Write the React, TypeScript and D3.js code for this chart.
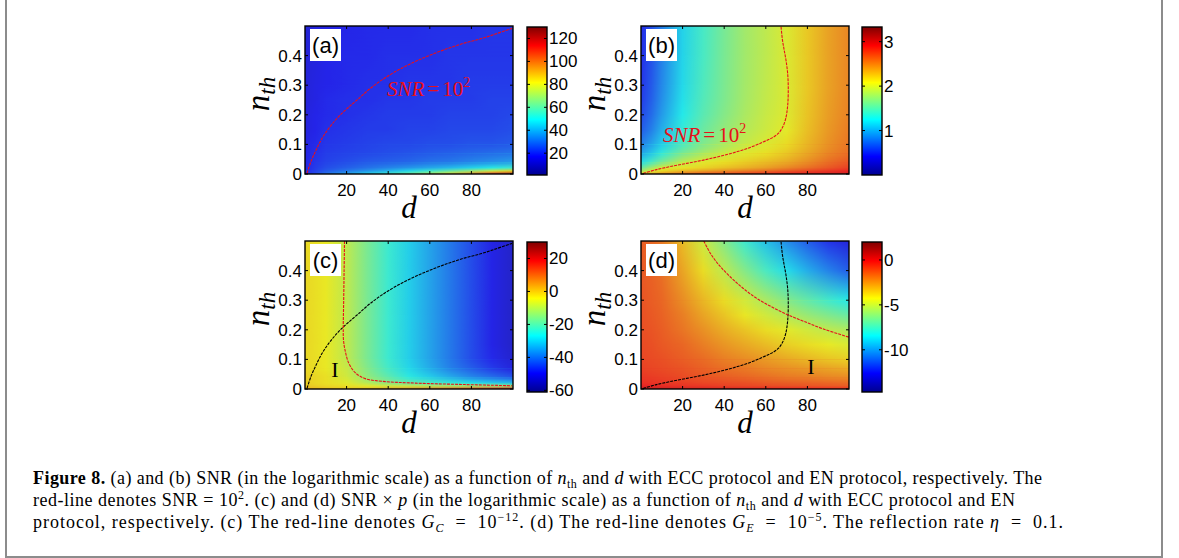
import React from "react";
import * as d3 from "d3";

// axis ticks shared by the four maps
const dTicks = [20, 40, 60, 80];
const nthTicks = [0, 0.1, 0.2, 0.3, 0.4];

// colorbar ticks
const cbTicksA = [20, 40, 60, 80, 100, 120];
const cbTicksB = [1, 2, 3];
const cbTicksC = [-60, -40, -20, 0, 20];
const cbTicksD = [-10, -5, 0];

// sample grid
const dCols = [0, 5, 10, 20, 30, 40, 50, 60, 70, 80, 90, 100];
const nthRows = [0, 0.01, 0.02, 0.04, 0.07, 0.1, 0.15, 0.2, 0.25, 0.3, 0.4, 0.5];

// (a) SNR, ECC protocol (rows follow nthRows, columns follow dCols)
const mapA = [
  [18, 24, 30, 38, 46, 54, 62, 72, 84, 97, 111, 125],
  [18, 22, 26, 31, 36, 41, 47, 54, 61, 69, 77, 86],
  [17, 21, 24, 27, 30, 33, 36, 39, 42, 46, 50, 54],
  [17, 20, 22, 24, 26, 27, 28, 30, 31, 33, 35, 37],
  [16, 19, 21, 22, 23, 24, 25, 26, 27, 28, 29, 30],
  [16, 18, 20, 21, 22, 23, 23, 24, 24, 25, 25, 26],
  [15, 17, 19, 20, 21, 21, 22, 22, 23, 23, 23, 24],
  [15, 17, 18, 19, 20, 21, 21, 21, 22, 22, 22, 23],
  [14, 16, 18, 19, 19, 20, 20, 21, 21, 21, 22, 22],
  [14, 16, 17, 18, 19, 19, 20, 20, 20, 21, 21, 21],
  [14, 15, 17, 18, 18, 19, 19, 19, 20, 20, 20, 20],
  [13, 15, 16, 17, 18, 18, 18, 19, 19, 19, 20, 20],
];

// (b) SNR, EN protocol
const mapB = [
  [2.1, 2.3, 2.45, 2.6, 2.7, 2.75, 2.8, 2.85, 2.9, 2.95, 3.0, 3.05],
  [1.8, 2.0, 2.15, 2.3, 2.4, 2.48, 2.55, 2.62, 2.7, 2.78, 2.85, 2.92],
  [1.55, 1.8, 2.0, 2.1, 2.18, 2.26, 2.33, 2.4, 2.5, 2.6, 2.7, 2.8],
  [1.2, 1.4, 1.6, 1.9, 2.05, 2.12, 2.2, 2.27, 2.35, 2.47, 2.6, 2.7],
  [0.95, 1.1, 1.3, 1.6, 1.8, 1.95, 2.04, 2.12, 2.22, 2.36, 2.5, 2.6],
  [0.8, 0.95, 1.12, 1.42, 1.64, 1.8, 1.93, 2.02, 2.14, 2.3, 2.45, 2.57],
  [0.65, 0.8, 1.0, 1.32, 1.55, 1.72, 1.86, 1.96, 2.06, 2.26, 2.42, 2.54],
  [0.57, 0.72, 0.92, 1.25, 1.48, 1.66, 1.82, 1.94, 2.03, 2.24, 2.4, 2.52],
  [0.52, 0.67, 0.87, 1.21, 1.45, 1.63, 1.8, 1.92, 2.02, 2.23, 2.39, 2.51],
  [0.49, 0.64, 0.84, 1.18, 1.43, 1.62, 1.79, 1.91, 2.02, 2.22, 2.38, 2.5],
  [0.46, 0.61, 0.81, 1.16, 1.41, 1.61, 1.78, 1.9, 2.02, 2.22, 2.38, 2.5],
  [0.45, 0.6, 0.8, 1.15, 1.4, 1.6, 1.78, 1.9, 2.02, 2.22, 2.38, 2.5],
];

// (c) SNR x p, ECC protocol
const mapC = [
  [2, 2, 1, 0, 1, 3, 5, 8, 11, 14, 17, 20],
  [0, -1, -2, -3, -5, -7, -8, -10, -11, -12, -13, -14],
  [-1, -2, -3, -5, -10, -15, -19, -22, -25, -28, -30, -32],
  [-1, -2, -3, -7, -14, -20, -26, -30, -34, -38, -41, -44],
  [-2, -3, -4, -8, -16, -23, -29, -34, -39, -43, -47, -51],
  [-2, -3, -4, -9, -17, -24, -30, -35, -40, -45, -49, -53],
  [-2, -3, -4, -9, -17, -24, -30, -35, -40, -45, -50, -54],
  [-2, -3, -4, -9, -17, -24, -30, -35, -40, -45, -50, -54],
  [-2, -3, -4, -9, -17, -24, -30, -35, -40, -45, -50, -54],
  [-2, -3, -4, -9, -17, -24, -30, -35, -40, -45, -50, -54],
  [-2, -3, -4, -9, -17, -24, -30, -35, -40, -45, -50, -54],
  [-2, -3, -4, -9, -17, -24, -30, -35, -40, -45, -50, -54],
];

// (d) SNR x p, EN protocol
const mapD = [
  [0.8, 0.7, 0.6, 0.5, 0.4, 0.3, 0.2, 0.1, 0, -0.1, -0.2, -0.3],
  [0, -0.1, -0.2, -0.4, -0.5, -0.7, -0.8, -0.9, -1.0, -1.1, -1.2, -1.3],
  [-0.3, -0.4, -0.5, -0.6, -0.8, -0.9, -1.0, -1.2, -1.3, -1.4, -1.5, -1.6],
  [-0.5, -0.6, -0.7, -0.9, -1.1, -1.3, -1.5, -1.7, -1.9, -2.0, -2.2, -2.3],
  [-0.7, -0.8, -0.9, -1.1, -1.4, -1.7, -1.9, -2.2, -2.4, -2.6, -2.8, -3.0],
  [-0.8, -0.9, -1.0, -1.3, -1.6, -2.0, -2.3, -2.6, -2.9, -3.2, -3.5, -3.7],
  [-0.9, -1.0, -1.2, -1.5, -2.0, -2.5, -2.9, -3.3, -3.7, -4.0, -4.3, -4.6],
  [-1.0, -1.1, -1.3, -1.8, -2.4, -3.0, -3.5, -4.0, -4.4, -4.8, -5.2, -5.5],
  [-1.0, -1.2, -1.4, -2.0, -2.8, -3.5, -4.2, -4.8, -5.4, -6.0, -6.5, -7.0],
  [-1.1, -1.3, -1.5, -2.3, -3.2, -4.0, -4.8, -5.6, -6.4, -7.1, -7.8, -8.4],
  [-1.2, -1.4, -1.7, -2.8, -4.0, -5.2, -6.4, -7.6, -8.7, -9.7, -10.6, -11.4],
  [-1.3, -1.5, -1.9, -3.3, -4.9, -6.4, -7.9, -9.3, -10.4, -11.4, -12.3, -13.0],
];

// contour SNR = 10^2, ECC protocol (red in a, black in c)
const ecD = [1, 3, 5, 8, 11.5, 15, 18.5, 22, 26, 31, 37, 45, 53, 61, 69, 77, 85, 92, 99.5];
const ecN = [0.003, 0.045, 0.076, 0.118, 0.155, 0.185, 0.21, 0.232, 0.256, 0.287, 0.318, 0.352, 0.38, 0.404, 0.425, 0.443, 0.458, 0.474, 0.492];
// contour SNR = 10^2, EN protocol (red in b, black in d)
const enD = [1, 7, 14, 22, 30, 38, 46, 53, 59, 63, 66, 68, 69.5, 70.5, 70.8, 70.5, 69.7, 68.8, 68, 67.3];
const enN = [0.002, 0.014, 0.025, 0.036, 0.047, 0.06, 0.075, 0.091, 0.109, 0.122, 0.137, 0.157, 0.185, 0.23, 0.29, 0.34, 0.385, 0.42, 0.453, 0.5];
// contour G_C = 10^-12 (red in c)
const gcD = [19, 18.8, 18.6, 18.4, 18.5, 19.2, 21, 24.3, 29, 37, 53, 77, 99.5];
const gcN = [0.5, 0.4, 0.3, 0.21, 0.166, 0.133, 0.088, 0.054, 0.035, 0.026, 0.02, 0.015, 0.011];
// contour G_E = 10^-5 (red in d)
const geD = [30.2, 33.4, 38.2, 46.3, 54.4, 62.4, 70.5, 78.5, 88, 100];
const geN = [0.5, 0.458, 0.413, 0.357, 0.312, 0.279, 0.251, 0.228, 0.202, 0.175];

const jetPos = [0, 0.125, 0.375, 0.625, 0.875, 1];
const jetCol = ["#00008f", "#0000ff", "#00ffff", "#ffff00", "#ff0000", "#800000"];
const jet = d3.scaleLinear<string>().domain(jetPos).range(jetCol).interpolate(d3.interpolateRgb).clamp(true);

const PW = 208;
const PH = 148;
const CBW = 20;
const SANS = "Liberation Sans, Arial, sans-serif";
const SERIF = "Liberation Serif, Times New Roman, serif";
const RED = "#e8101a";

const zip = (a: number[], b: number[]) => a.map((v, i) => [v, b[i]] as [number, number]);

type Curve = { pts: [number, number][]; color: string };

function Panel(props: {
  id: string;
  left: number;
  top: number;
  grid: number[][];
  cDomain: [number, number];
  cTicks: number[];
  cbLeft: number;
  cbTop: number;
  cbH: number;
  curves: Curve[];
  children?: React.ReactNode;
}) {
  const { id, left, top, grid, cDomain, cTicks, cbLeft, cbTop, cbH, curves } = props;
  const xs = d3.scaleLinear().domain([0, 100]).range([left, left + PW]);
  const ys = d3.scaleLinear().domain([0, 0.5]).range([top + PH, top]);
  const cs = d3.scaleLinear().domain(cDomain).range([cbTop + cbH, cbTop]);
  const norm = d3.scaleLinear().domain(cDomain).range([0, 1]).clamp(true);
  const line = d3
    .line<[number, number]>()
    .x((p) => xs(p[0]))
    .y((p) => ys(p[1]))
    .curve(d3.curveCatmullRom.alpha(0.5));

  return (
    <g>
      <defs>
        {grid.map((row, k) => (
          <linearGradient key={k} id={`${id}-r${k}`} gradientUnits="userSpaceOnUse" x1={xs(0)} x2={xs(100)} y1={0} y2={0}>
            {dCols.map((d, j) => (
              <stop key={j} offset={d / 100} stopColor={jet(norm(row[j]))} />
            ))}
          </linearGradient>
        ))}
        <clipPath id={`${id}-clip`}>
          <rect x={left} y={top} width={PW} height={PH} />
        </clipPath>
        <linearGradient id={`${id}-cb`} x1={0} y1={1} x2={0} y2={0}>
          {jetPos.map((p, i) => (
            <stop key={i} offset={p} stopColor={jetCol[i]} />
          ))}
        </linearGradient>
      </defs>

      <rect x={left} y={top} width={PW} height={PH} fill="#a0a0a0" />
      <g opacity={0.77} shapeRendering="crispEdges">
        {nthRows.slice(0, -1).map((n, k) => {
          const y0 = ys(nthRows[k + 1]);
          const y1 = ys(n);
          return (
            <g key={k}>
              <rect x={left} y={y0} width={PW} height={y1 - y0} fill={`url(#${id}-r${k})`} />
              <rect x={left} y={y0} width={PW} height={y1 - y0} fill={`url(#${id}-r${k + 1})`} mask="url(#fade)" />
            </g>
          );
        })}
      </g>

      <g clipPath={`url(#${id}-clip)`}>
        {curves.map((c, i) => (
          <path key={i} d={line(c.pts) || ""} fill="none" stroke={c.color} strokeWidth={1.1} strokeDasharray="3 1" />
        ))}
      </g>

      <rect x={left} y={top} width={PW} height={PH} fill="none" stroke="#000" strokeWidth={1.4} />
      {dTicks.map((t) => (
        <g key={`x${t}`}>
          <line x1={xs(t)} x2={xs(t)} y1={top + PH} y2={top + PH - 3} stroke="#000" />
          <line x1={xs(t)} x2={xs(t)} y1={top} y2={top + 3} stroke="#000" />
          <text x={xs(t)} y={top + PH + 22} textAnchor="middle" fontFamily={SANS} fontSize={17}>
            {t}
          </text>
        </g>
      ))}
      {nthTicks.map((t) => (
        <g key={`y${t}`}>
          <line x1={left} x2={left + 3} y1={ys(t)} y2={ys(t)} stroke="#000" />
          <line x1={left + PW} x2={left + PW - 3} y1={ys(t)} y2={ys(t)} stroke="#000" />
          <text x={left - 3} y={ys(t) + 6} textAnchor="end" fontFamily={SANS} fontSize={17}>
            {String(t)}
          </text>
        </g>
      ))}

      <text x={left + PW / 2} y={top + PH + 44} textAnchor="middle" fontFamily={SERIF} fontStyle="italic" fontSize={31}>
        d
      </text>
      <text transform={`translate(${left - 36},${top + PH / 2 - 6}) rotate(-90)`} textAnchor="middle" fontFamily={SERIF} fontStyle="italic">
        <tspan fontSize={33}>n</tspan>
        <tspan fontSize={23} dy={6}>
          th
        </tspan>
      </text>

      <rect x={left + 5} y={top + 3} width={31} height={32} fill="#fff" />
      <text x={left + 20.5} y={top + 27} textAnchor="middle" fontFamily={SANS} fontSize={22}>
        ({id})
      </text>

      {props.children}

      <rect x={cbLeft} y={cbTop} width={CBW} height={cbH} fill={`url(#${id}-cb)`} stroke="#000" strokeWidth={1.4} />
      {cTicks.map((t) => (
        <g key={`c${t}`}>
          <line x1={cbLeft} x2={cbLeft + 3} y1={cs(t)} y2={cs(t)} stroke="#000" />
          <line x1={cbLeft + CBW - 3} x2={cbLeft + CBW} y1={cs(t)} y2={cs(t)} stroke="#000" />
          <text x={cbLeft + CBW + 2} y={cs(t) + 6} fontFamily={SANS} fontSize={17}>
            {String(t)}
          </text>
        </g>
      ))}
    </g>
  );
}

function SnrNote({ x, y }: { x: number; y: number }) {
  return (
    <text x={x} y={y} fill={RED} fontFamily={SERIF} fontSize={21} style={{ whiteSpace: "pre" }}>
      <tspan fontStyle="italic">SNR</tspan>
      <tspan dx={3}>=</tspan>
      <tspan dx={3}>10</tspan>
      <tspan fontSize={14} dy={-9}>
        2
      </tspan>
    </text>
  );
}

function Roman({ x, y }: { x: number; y: number }) {
  return (
    <text x={x} y={y} textAnchor="middle" fontFamily={SERIF} fontSize={22}>
      I
    </text>
  );
}

type Seg = { t: string; b?: boolean; i?: boolean; sub?: boolean; sup?: boolean };

const captionLine1: Seg[] = [
  { t: "Figure 8.", b: true },
  { t: " (a) and (b) SNR (in the logarithmic scale) as a function of " },
  { t: "n", i: true },
  { t: "th", sub: true },
  { t: " and " },
  { t: "d", i: true },
  { t: " with ECC protocol and EN protocol, respectively. The" },
];
const captionLine2: Seg[] = [
  { t: "red-line denotes SNR = 10" },
  { t: "2", sup: true },
  { t: ". (c) and (d) SNR × " },
  { t: "p", i: true },
  { t: " (in the logarithmic scale) as a function of " },
  { t: "n", i: true },
  { t: "th", sub: true },
  { t: " and " },
  { t: "d", i: true },
  { t: " with ECC protocol and EN" },
];
const captionLine3: Seg[] = [
  { t: "protocol, respectively. (c) The red-line denotes " },
  { t: "G", i: true },
  { t: "C", i: true, sub: true },
  { t: "  =  10" },
  { t: "−12", sup: true },
  { t: ". (d) The red-line denotes " },
  { t: "G", i: true },
  { t: "E", i: true, sub: true },
  { t: "  =  10" },
  { t: "−5", sup: true },
  { t: ". The reflection rate " },
  { t: "η", i: true },
  { t: "  =  0.1." },
];

function CaptionLine({ segs, y, len }: { segs: Seg[]; y: number; len?: number }) {
  let cur = 0;
  return (
    <text
      x={33}
      y={y}
      fontFamily={SERIF}
      fontSize={18}
      textLength={len}
      lengthAdjust={len ? "spacing" : undefined}
      style={{ whiteSpace: "pre" }}
    >
      {segs.map((s, k) => {
        const target = s.sub ? 4 : s.sup ? -7 : 0;
        const dy = target - cur;
        cur = target;
        return (
          <tspan
            key={k}
            dy={dy}
            fontWeight={s.b ? "bold" : undefined}
            fontStyle={s.i ? "italic" : undefined}
            fontSize={s.sub || s.sup ? 12 : undefined}
          >
            {s.t}
          </tspan>
        );
      })}
    </text>
  );
}

export default function App() {
  return (
    <div style={{ position: "absolute", left: 0, top: 0 }}>
      <svg width={1179} height={558} viewBox="0 0 1179 558" style={{ display: "block", background: "#fff" }}>
        <defs>
          <linearGradient id="fadeGrad" x1={0} y1={0} x2={0} y2={1}>
            <stop offset={0} stopColor="#fff" />
            <stop offset={1} stopColor="#000" />
          </linearGradient>
          <mask id="fade" maskUnits="objectBoundingBox" maskContentUnits="objectBoundingBox" x={0} y={0} width={1} height={1}>
            <rect x={0} y={0} width={1} height={1} fill="url(#fadeGrad)" />
          </mask>
        </defs>

        <line x1={6} x2={6} y1={0} y2={557} stroke="#8c8c8c" strokeWidth={2} />
        <line x1={1162} x2={1162} y1={0} y2={557} stroke="#8c8c8c" strokeWidth={2} />
        <line x1={5} x2={1163} y1={557} y2={557} stroke="#8c8c8c" strokeWidth={2} />

        <Panel id="a" left={305} top={26} grid={mapA} cDomain={[1, 130]} cTicks={cbTicksA} cbLeft={527} cbTop={27} cbH={148}
          curves={[{ pts: zip(ecD, ecN), color: RED }]}>
          <SnrNote x={387} y={96} />
        </Panel>
        <Panel id="b" left={641} top={26} grid={mapB} cDomain={[0, 3.33]} cTicks={cbTicksB} cbLeft={862} cbTop={27} cbH={148}
          curves={[{ pts: zip(enD, enN), color: RED }]}>
          <SnrNote x={663} y={142} />
        </Panel>
        <Panel id="c" left={305} top={241} grid={mapC} cDomain={[-61, 30]} cTicks={cbTicksC} cbLeft={527} cbTop={242} cbH={150}
          curves={[{ pts: zip(ecD, ecN), color: "#000" }, { pts: zip(gcD, gcN), color: RED }]}>
          <Roman x={335} y={377} />
        </Panel>
        <Panel id="d" left={641} top={241} grid={mapD} cDomain={[-14.7, 2]} cTicks={cbTicksD} cbLeft={862} cbTop={242} cbH={150}
          curves={[{ pts: zip(enD, enN), color: "#000" }, { pts: zip(geD, geN), color: RED }]}>
          <Roman x={811} y={374} />
        </Panel>

        <CaptionLine segs={captionLine1} y={484} len={1009} />
        <CaptionLine segs={captionLine2} y={506} len={982} />
        <CaptionLine segs={captionLine3} y={528} len={1030} />
      </svg>
    </div>
  );
}
